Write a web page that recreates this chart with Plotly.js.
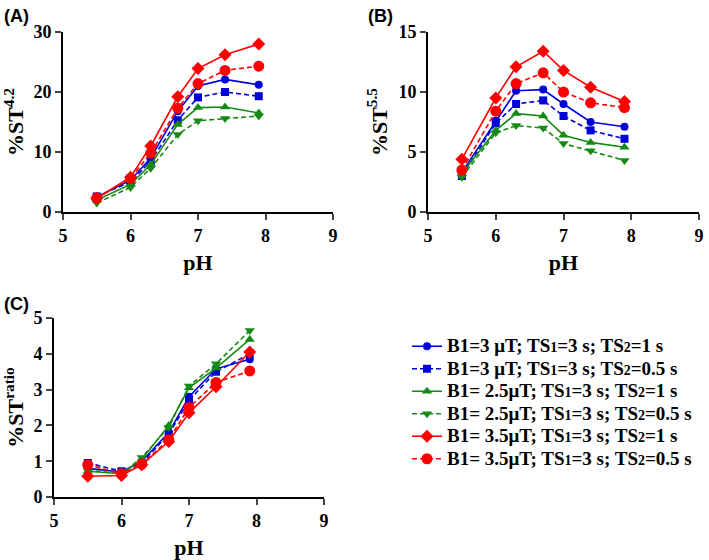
<!DOCTYPE html>
<html>
<head>
<meta charset="utf-8">
<script src="https://cdn.plot.ly/plotly-3.0.1.min.js"></script>
<style>html,body{margin:0;padding:0;background:#fff;}#chart{width:709px;height:560px;}</style>
</head>
<body>
<div id="chart"></div>
<script>
const pH = [5.5, 6, 6.3, 6.7, 7, 7.4, 7.9];

const seriesLabels = [
  ["B1=3 μT; TS", "1", "=3 s; TS", "2", "=1 s"],
  ["B1=3 μT; TS", "1", "=3 s; TS", "2", "=0.5 s"],
  ["B1= 2.5μT; TS", "1", "=3 s; TS", "2", "=1 s"],
  ["B1= 2.5μT; TS", "1", "=3 s; TS", "2", "=0.5 s"],
  ["B1= 3.5μT; TS", "1", "=3 s; TS", "2", "=1 s"],
  ["B1= 3.5μT; TS", "1", "=3 s; TS", "2", "=0.5 s"]
];
function legendName(parts) {
  return '<span style="font-size:19px">' + parts[0] +
    '<span style="font-size:14px">' + parts[1] + '</span>' + parts[2] +
    '<span style="font-size:14px">' + parts[3] + '</span>' + parts[4] + '</span>';
}

// Panel A: %ST4.2
const stA_b3_1   = [2.5, 5.3, 9.0, 16.8, 21.0, 22.1, 21.2];
const stA_b3_05  = [2.6, 5.0, 8.5, 15.3, 19.1, 20.0, 19.3];
const stA_b25_1  = [2.0, 4.6, 7.9, 14.6, 17.4, 17.5, 16.5];
const stA_b25_05 = [1.5, 4.1, 7.3, 12.9, 15.2, 15.6, 16.0];
const stA_b35_1  = [2.3, 5.8, 11.0, 19.2, 23.9, 26.2, 28.0];
const stA_b35_05 = [2.3, 5.6, 9.8, 17.3, 21.4, 23.6, 24.3];

// Panel B: %ST5.5
const stB_b3_1   = [3.3, 7.6, 10.1, 10.2, 9.0, 7.5, 7.1];
const stB_b3_05  = [3.0, 7.4, 9.0, 9.3, 8.0, 6.8, 6.1];
const stB_b25_1  = [3.2, 6.8, 8.2, 8.0, 6.4, 5.8, 5.4];
const stB_b25_05 = [2.9, 6.6, 7.2, 7.0, 5.7, 5.1, 4.3];
const stB_b35_1  = [4.4, 9.5, 12.1, 13.4, 11.8, 10.4, 9.2];
const stB_b35_05 = [3.5, 8.4, 10.7, 11.6, 10.0, 9.1, 8.7];

// Panel C: %ST ratio
const stC_b3_1   = [0.80, 0.70, 1.00, 1.80, 2.80, 3.58, 3.85];
const stC_b3_05  = [0.95, 0.72, 0.95, 1.75, 2.70, 3.50, 4.00];
const stC_b25_1  = [0.72, 0.65, 1.05, 2.00, 3.05, 3.60, 4.40];
const stC_b25_05 = [0.75, 0.65, 1.10, 1.95, 3.10, 3.72, 4.65];
const stC_b35_1  = [0.58, 0.60, 0.90, 1.55, 2.35, 3.08, 4.05];
const stC_b35_05 = [0.90, 0.65, 0.92, 1.60, 2.50, 3.20, 3.52];

const panelA = [stA_b3_1, stA_b3_05, stA_b25_1, stA_b25_05, stA_b35_1, stA_b35_05];
const panelB = [stB_b3_1, stB_b3_05, stB_b25_1, stB_b25_05, stB_b35_1, stB_b35_05];
const panelC = [stC_b3_1, stC_b3_05, stC_b25_1, stC_b25_05, stC_b35_1, stC_b35_05];

const BLUE = "#0000d8", GREEN = "#168a16", RED = "#ff0000";
const styles = [
  {color: BLUE,  dash: "solid",   symbol: "circle",        size: 8},
  {color: BLUE,  dash: "5px,3px", symbol: "square",        size: 8},
  {color: GREEN, dash: "solid",   symbol: "triangle-up",   size: 9},
  {color: GREEN, dash: "5px,3px", symbol: "triangle-down", size: 9},
  {color: RED,   dash: "solid",   symbol: "diamond",       size: 10},
  {color: RED,   dash: "5px,3px", symbol: "circle",        size: 11}
];

const traces = [];
function addPanel(data, xa, ya, showLegend) {
  data.forEach((vals, i) => {
    const s = styles[i];
    traces.push({
      x: pH, y: vals, xaxis: xa, yaxis: ya,
      type: "scatter", mode: "lines+markers",
      name: legendName(seriesLabels[i]), legendgroup: "g" + i, showlegend: showLegend,
      line: {color: s.color, width: 1.6, dash: s.dash},
      marker: {color: s.color, symbol: s.symbol, size: s.size}
    });
  });
}
addPanel(panelA, "x", "y", true);
addPanel(panelB, "x2", "y2", false);
addPanel(panelC, "x3", "y3", false);

const serif = "Liberation Serif, Times New Roman, serif";
const tickFont = {family: serif, size: 18, color: "#000", weight: "bold"};
const titleFont = {family: serif, size: 22, color: "#000", weight: "bold"};

function xAxis(domain, anchor) {
  return {
    domain: domain, anchor: anchor, range: [5, 9],
    tickvals: [5, 6, 7, 8, 9], ticks: "outside", ticklen: 6, tickwidth: 2,
    showline: true, linewidth: 2, linecolor: "#000", showgrid: false, zeroline: false,
    tickfont: tickFont,
    title: {text: "pH", font: titleFont, standoff: 10}
  };
}
function yAxis(domain, anchor, range, tv, title, standoff) {
  return {
    domain: domain, anchor: anchor, range: range,
    tickvals: tv, ticks: "outside", ticklen: 6, tickwidth: 2,
    showline: true, linewidth: 2, linecolor: "#000", showgrid: false, zeroline: false,
    tickfont: tickFont,
    title: {text: title, font: titleFont, standoff: standoff}
  };
}

const W = 709, H = 560;
const layout = {
  width: W, height: H,
  margin: {l: 0, r: 0, t: 0, b: 0},
  paper_bgcolor: "#fff", plot_bgcolor: "#fff",
  xaxis:  xAxis([63 / W, 333 / W], "y"),
  yaxis:  yAxis([1 - 212 / H, 1 - 32 / H], "x", [0, 30], [0, 10, 20, 30], "%ST<sup>4.2</sup>", 5),
  xaxis2: xAxis([428 / W, 699 / W], "y2"),
  yaxis2: yAxis([1 - 212 / H, 1 - 32 / H], "x2", [0, 15], [0, 5, 10, 15], "%ST<sup>5.5</sup>", 5),
  xaxis3: xAxis([54 / W, 324 / W], "y3"),
  yaxis3: yAxis([1 - 497 / H, 1 - 318 / H], "x3", [0, 5], [0, 1, 2, 3, 4, 5], "%ST<sup>ratio</sup>", 5),
  showlegend: true,
  legend: {
    x: 407 / W, y: 1 - 330 / H, xanchor: "left", yanchor: "top",
    font: {family: serif, size: 15, color: "#000", weight: "bold"},
    tracegroupgap: 0, itemwidth: 30, bgcolor: "rgba(0,0,0,0)"
  },
  annotations: [
    {text: "(A)", x: 2 / W, y: 1 - 16 / H, xref: "paper", yref: "paper", xanchor: "left", yanchor: "middle", showarrow: false,
     font: {family: "Liberation Sans, Arial, sans-serif", size: 18, color: "#000", weight: "bold"}},
    {text: "(B)", x: 366 / W, y: 1 - 16 / H, xref: "paper", yref: "paper", xanchor: "left", yanchor: "middle", showarrow: false,
     font: {family: "Liberation Sans, Arial, sans-serif", size: 18, color: "#000", weight: "bold"}},
    {text: "(C)", x: 2 / W, y: 1 - 304 / H, xref: "paper", yref: "paper", xanchor: "left", yanchor: "middle", showarrow: false,
     font: {family: "Liberation Sans, Arial, sans-serif", size: 18, color: "#000", weight: "bold"}}
  ]
};

Plotly.newPlot("chart", traces, layout, {displayModeBar: false, staticPlot: true});
</script>
</body>
</html>
